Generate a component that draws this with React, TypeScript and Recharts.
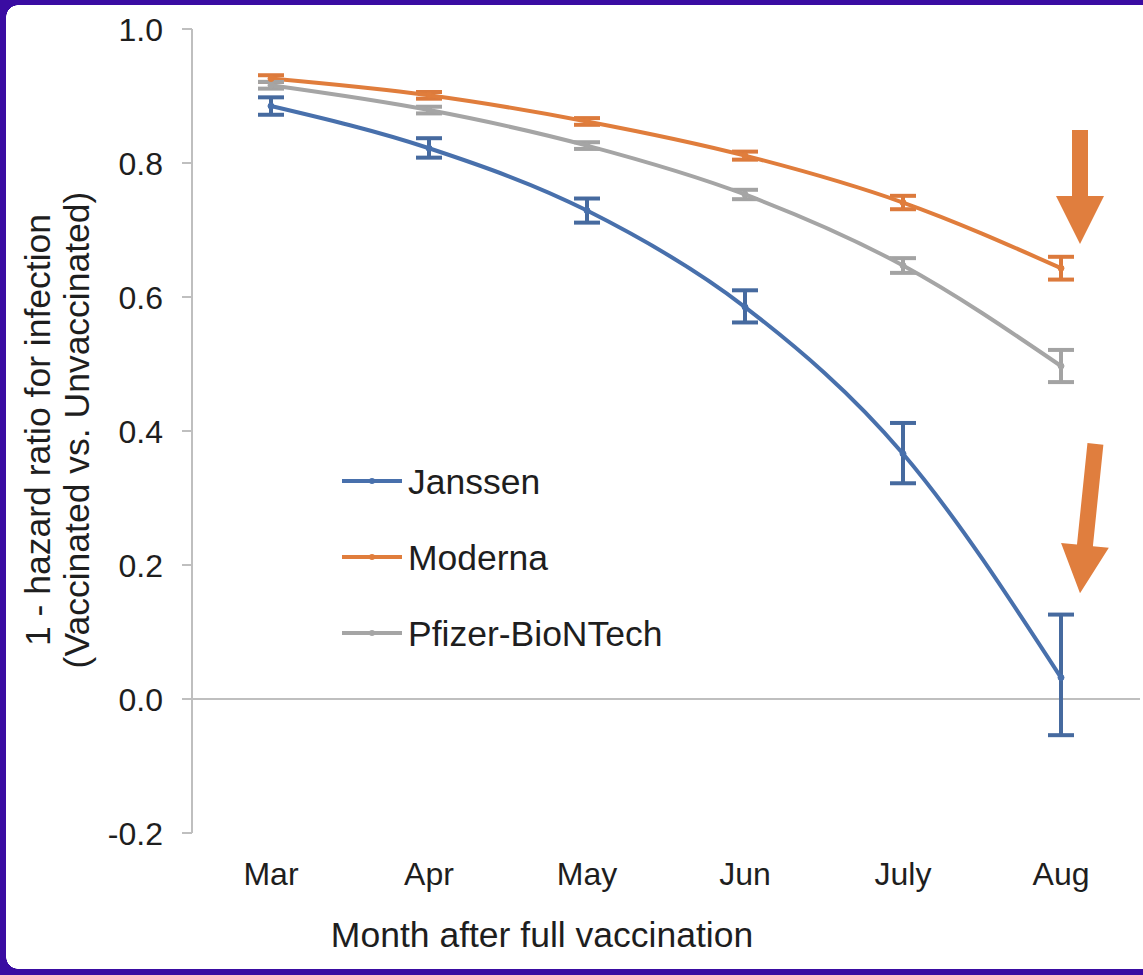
import React from 'react';
import {
  ComposedChart,
  Line,
  XAxis,
  YAxis,
  ErrorBar,
  ReferenceLine,
  ReferenceDot,
  Legend,
  Label,
} from 'recharts';

// ---------- data ----------
const months = ['Mar', 'Apr', 'May', 'Jun', 'July', 'Aug'];

const janssen = [0.885, 0.822, 0.729, 0.585, 0.366, 0.032];
const janssenErrLow = [0.013, 0.014, 0.018, 0.023, 0.044, 0.086];
const janssenErrHigh = [0.013, 0.015, 0.018, 0.025, 0.046, 0.094];

const moderna = [0.926, 0.901, 0.862, 0.811, 0.741, 0.643];
const modernaErr = [0.005, 0.005, 0.005, 0.006, 0.01, 0.017];

const pfizer = [0.916, 0.879, 0.826, 0.753, 0.647, 0.497];
const pfizerErr = [0.005, 0.005, 0.005, 0.007, 0.011, 0.024];

const yTicks = [-0.2, 0, 0.2, 0.4, 0.6, 0.8, 1.0];

const seriesNames = ['Janssen', 'Moderna', 'Pfizer-BioNTech'];
const seriesKeys = ['janssen', 'moderna', 'pfizer'];
const seriesColors = ['#4870AC', '#E07D3C', '#A5A5A5'];
const errColors = ['#466A9F', '#DC7A3C', '#A3A3A3'];

// annotation arrows: [category, y value of tip, rotation deg, length]
const arrowTips: [string, number, number, number][] = [
  ['Aug', 0.679, 0, 114],
  ['Aug', 0.158, 5.9, 150],
];

const xTitle = 'Month after full vaccination';
const yTitle1 = '1 - hazard ratio for infection';
const yTitle2 = '(Vaccinated vs. Unvaccinated)';

const data = months.map((m, i) => ({
  month: m,
  janssen: janssen[i],
  janssenErr: [janssenErrLow[i], janssenErrHigh[i]],
  moderna: moderna[i],
  modernaErr: modernaErr[i],
  pfizer: pfizer[i],
  pfizerErr: pfizerErr[i],
}));

// ---------- styles ----------
const FONT = "'Liberation Sans', Arial, Helvetica, sans-serif";
const TEXT = '#1e1e1e';
const AXIS = '#BFBFBF';
const FRAME = '#3A0CA2';

const YTick = (props: any) => {
  const { x, y, payload } = props;
  return (
    <text x={x} y={y} dy={11.5} textAnchor="end" fontFamily={FONT} fontSize={32} fill={TEXT}>
      {Number(payload.value).toFixed(1)}
    </text>
  );
};

const XTick = (props: any) => {
  const { x, y, payload } = props;
  return (
    <text x={x} y={y} dy={52} textAnchor="middle" fontFamily={FONT} fontSize={32} fill={TEXT}>
      {payload.value}
    </text>
  );
};

const YTitle = (props: any) => {
  const vb = props.viewBox || { x: 0, y: 0, width: 0, height: 0 };
  const cy = vb.y + vb.height / 2 - 1;
  const x1 = vb.x + 50;
  const x2 = vb.x + 89;
  return (
    <g>
      <text
        x={x1}
        y={cy}
        transform={`rotate(-90, ${x1}, ${cy})`}
        textAnchor="middle"
        fontFamily={FONT}
        fontSize={35.5}
        fill={TEXT}
      >
        {yTitle1}
      </text>
      <text
        x={x2}
        y={cy}
        transform={`rotate(-90, ${x2}, ${cy})`}
        textAnchor="middle"
        fontFamily={FONT}
        fontSize={35.5}
        fill={TEXT}
      >
        {yTitle2}
      </text>
    </g>
  );
};

const XTitle = (props: any) => {
  const vb = props.viewBox || { x: 0, y: 0, width: 0, height: 0 };
  const x = vb.x + 350;
  const y = vb.y + 114;
  return (
    <text x={x} y={y} textAnchor="middle" fontFamily={FONT} fontSize={35.5} fill={TEXT}>
      {xTitle}
    </text>
  );
};

const makeArrow = (rot: number, len: number) => (props: any) => {
  const { cx, cy } = props;
  if (cx == null || cy == null) return <g />;
  const tx = cx + 19;
  const ty = cy;
  const head = 48;
  const hw = 24;
  const sw = 8;
  const pts = [
    [tx - sw, ty - len],
    [tx + sw, ty - len],
    [tx + sw, ty - head],
    [tx + hw, ty - head],
    [tx, ty],
    [tx - hw, ty - head],
    [tx - sw, ty - head],
  ]
    .map((p) => p.join(','))
    .join(' ');
  return <polygon points={pts} fill="#E07E3E" transform={`rotate(${rot}, ${tx}, ${ty})`} />;
};

const LegendContent = () => (
  <svg width={420} height={220} style={{ display: 'block' }}>
    {seriesNames.map((name, i) => {
      const ly = 31 + i * 76;
      return (
        <g key={name}>
          <line x1={12} y1={ly} x2={72} y2={ly} stroke={seriesColors[i]} strokeWidth={4} />
          <circle cx={42} cy={ly} r={3} fill={seriesColors[i]} />
          <text x={78} y={ly + 13} fontFamily={FONT} fontSize={35.5} fill={TEXT}>
            {name}
          </text>
        </g>
      );
    })}
  </svg>
);

export default function App() {
  return (
    <div
      style={{
        position: 'fixed',
        left: 0,
        top: 0,
        width: 1143,
        height: 975,
        background: '#ffffff',
        overflow: 'hidden',
      }}
    >
      {/* purple frame: left, top, bottom strips */}
      <div style={{ position: 'absolute', left: 0, top: 0, width: 1143, height: 5, background: FRAME }} />
      <div style={{ position: 'absolute', left: 0, top: 0, width: 6, height: 975, background: FRAME }} />
      <div style={{ position: 'absolute', left: 0, top: 969, width: 1143, height: 6, background: FRAME }} />
      {/* rounded inner corners */}
      <div
        style={{
          position: 'absolute',
          left: 6,
          top: 5,
          width: 12,
          height: 12,
          background: `radial-gradient(circle at 12px 12px, transparent 11.5px, ${FRAME} 12px)`,
        }}
      />
      <div
        style={{
          position: 'absolute',
          left: 6,
          top: 957,
          width: 12,
          height: 12,
          background: `radial-gradient(circle at 12px 0px, transparent 11.5px, ${FRAME} 12px)`,
        }}
      />
      <div style={{ position: 'absolute', left: 0, top: 0 }}>
        <ComposedChart
          width={1143}
          height={975}
          data={data}
          margin={{ top: 29, right: 3, left: 0, bottom: 0 }}
        >
          <XAxis
            dataKey="month"
            axisLine={false}
            tickLine={false}
            tickSize={0}
            tickMargin={0}
            height={142}
            padding={{ left: 79, right: 79 }}
            tick={<XTick />}
            interval={0}
          >
            <Label content={<XTitle />} />
          </XAxis>
          <YAxis
            type="number"
            domain={[-0.2, 1.0]}
            ticks={yTicks}
            width={192}
            interval={0}
            axisLine={{ stroke: AXIS, strokeWidth: 2 }}
            tickLine={{ stroke: AXIS, strokeWidth: 2 }}
            tickSize={10}
            tickMargin={19}
            tick={<YTick />}
          >
            <Label content={<YTitle />} />
          </YAxis>
          <ReferenceLine y={0} stroke={AXIS} strokeWidth={2} />
          {seriesKeys.map((k, i) => (
            <Line
              key={k}
              type="monotone"
              dataKey={k}
              name={seriesNames[i]}
              stroke={seriesColors[i]}
              strokeWidth={4}
              dot={{ r: 3, fill: seriesColors[i], stroke: seriesColors[i], strokeWidth: 1 }}
              isAnimationActive={false}
            >
              <ErrorBar
                dataKey={`${k}Err`}
                direction="y"
                width={13}
                strokeWidth={4}
                stroke={errColors[i]}
                isAnimationActive={false}
              />
            </Line>
          ))}
          {arrowTips.map(([cat, v, rot, len], i) => (
            <ReferenceDot
              key={`arrow-${i}`}
              x={cat}
              y={v}
              r={0}
              shape={makeArrow(rot, len)}
            />
          ))}
          <Legend
            layout="vertical"
            align="center"
            verticalAlign="middle"
            wrapperStyle={{ left: 330, top: 450, width: 420, height: 220 }}
            content={<LegendContent />}
          />
        </ComposedChart>
      </div>
    </div>
  );
}
